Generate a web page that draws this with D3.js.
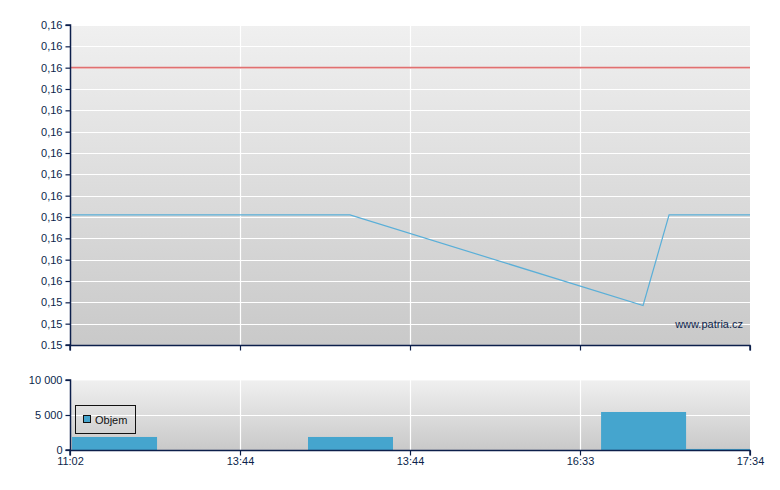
<!DOCTYPE html>
<html>
<head>
<meta charset="utf-8">
<script src="https://cdn.jsdelivr.net/npm/d3@7"></script>
<style>
  html, body { margin: 0; padding: 0; background: #ffffff; }
  svg { display: block; font-family: "Liberation Sans", Arial, sans-serif; }
</style>
</head>
<body>
<div id="chart"></div>
<script>
// ---- data ----
const xTickPos = [0, 1, 2, 3, 4];
const xTickLabels = ["11:02", "13:44", "13:44", "16:33", "17:34"];

const priceTickValues = [0.1545, 0.1547, 0.1549, 0.1551, 0.1553, 0.1555, 0.1557, 0.1559,
                         0.1561, 0.1563, 0.1565, 0.1567, 0.1569, 0.1571, 0.1573, 0.1575];
const priceTickLabels = ["0.15", "0,15", "0,15", "0,16", "0,16", "0,16", "0,16", "0,16",
                         "0,16", "0,16", "0,16", "0,16", "0,16", "0,16", "0,16", "0,16"];

const priceTimes  = [0.012, 1.647, 3.371, 3.524, 4.0];
const priceValues = [0.15572, 0.15572, 0.15487, 0.15572, 0.15572];
const prevClose = 0.1571;

const volStart  = [0.012, 1.4, 3.124, 3.624];
const volEnd    = [0.512, 1.9, 3.624, 4.0];
const volValues = [1860, 1860, 5430, 150];
const volTickValues = [0, 5000, 10000];
const volTickLabels = ["0", "5 000", "10 000"];

// ---- layout ----
const W = 780, H = 490;
const left = 70, right = 750;
const mainTop = 25, mainBottom = 345;
const volTop = 380, volBottom = 450;
const navy = "#0c1f4b";

const svg = d3.select("#chart").append("svg").attr("width", W).attr("height", H);

const defs = svg.append("defs");
const grad = defs.append("linearGradient").attr("id", "bg").attr("x1", 0).attr("y1", 0).attr("x2", 0).attr("y2", 1);
grad.append("stop").attr("offset", "0%").attr("stop-color", "#f0f0f0");
grad.append("stop").attr("offset", "100%").attr("stop-color", "#c9c9c9");

const x = d3.scaleLinear().domain([0, 4]).range([left, right]);
const y = d3.scaleLinear().domain([0.1545, 0.1575]).range([mainBottom, mainTop]);
const yv = d3.scaleLinear().domain([0, 10000]).range([volBottom, volTop]);

// ---- main panel ----
svg.append("rect").attr("x", left).attr("y", mainTop).attr("width", right - left).attr("height", mainBottom - mainTop).attr("fill", "url(#bg)");

const g = svg.append("g");
g.selectAll("line.hg").data(priceTickValues.slice(1)).enter().append("line")
  .attr("x1", left).attr("x2", right).attr("y1", d => Math.round(y(d)) + 0.5).attr("y2", d => Math.round(y(d)) + 0.5)
  .attr("stroke", "#ffffff").attr("stroke-width", 1.2);
g.selectAll("line.vg").data(xTickPos.slice(1, 4)).enter().append("line")
  .attr("y1", mainTop).attr("y2", mainBottom).attr("x1", d => Math.round(x(d)) + 0.5).attr("x2", d => Math.round(x(d)) + 0.5)
  .attr("stroke", "#ffffff").attr("stroke-width", 1.2);

// prev close line
g.append("line").attr("x1", left).attr("x2", right).attr("y1", y(prevClose)).attr("y2", y(prevClose))
  .attr("stroke", "#e07070").attr("stroke-width", 1.6);

// price line
const line = d3.line().x((d, i) => x(priceTimes[i])).y(d => y(d));
g.append("path").datum(priceValues).attr("d", line).attr("fill", "none")
  .attr("stroke", "#5aafd8").attr("stroke-width", 1.2);

// watermark
svg.append("text").attr("x", 743).attr("y", 328).attr("text-anchor", "end")
  .attr("font-size", 11).attr("fill", navy).text("www.patria.cz");

// main axes
const yAxis = d3.axisLeft(y).tickValues(priceTickValues).tickSize(5).tickPadding(3)
  .tickFormat((d, i) => priceTickLabels[i]);
const ya = svg.append("g").attr("transform", `translate(${left + 0.5},0)`).call(yAxis);
const xAxisMain = d3.axisBottom(x).tickValues(xTickPos).tickSize(5).tickFormat("");
const xa = svg.append("g").attr("transform", `translate(0,${mainBottom + 0.5})`).call(xAxisMain);

// ---- volume panel ----
svg.append("rect").attr("x", left).attr("y", volTop).attr("width", right - left).attr("height", volBottom - volTop).attr("fill", "url(#bg)");
svg.append("line").attr("x1", left).attr("x2", right).attr("y1", volTop + 0.5).attr("y2", volTop + 0.5).attr("stroke", "#f6f6f6");
svg.append("line").attr("x1", left).attr("x2", right).attr("y1", Math.round(yv(5000)) + 0.5).attr("y2", Math.round(yv(5000)) + 0.5)
  .attr("stroke", "#ffffff").attr("stroke-width", 1.2);
svg.selectAll("line.vvg").data(xTickPos.slice(1, 4)).enter().append("line")
  .attr("y1", volTop).attr("y2", volBottom).attr("x1", d => Math.round(x(d)) + 0.5).attr("x2", d => Math.round(x(d)) + 0.5)
  .attr("stroke", "#ffffff").attr("stroke-width", 1.2);

svg.selectAll("rect.bar").data(volValues).enter().append("rect")
  .attr("x", (d, i) => x(volStart[i]))
  .attr("width", (d, i) => x(volEnd[i]) - x(volStart[i]))
  .attr("y", d => yv(d))
  .attr("height", d => volBottom - yv(d))
  .attr("fill", "#45a5ce");

const yvAxis = d3.axisLeft(yv).tickValues(volTickValues).tickSize(5).tickPadding(3)
  .tickFormat((d, i) => volTickLabels[i]);
const yva = svg.append("g").attr("transform", `translate(${left + 0.5},0)`).call(yvAxis);
const xAxis = d3.axisBottom(x).tickValues(xTickPos).tickSize(5).tickPadding(2)
  .tickFormat((d, i) => xTickLabels[i]);
const xva = svg.append("g").attr("transform", `translate(0,${volBottom + 0.5})`).call(xAxis);

[ya, xa, yva, xva].forEach(a => {
  a.select(".domain").attr("stroke", navy).attr("stroke-width", 1.5);
  a.selectAll(".tick line").attr("stroke", navy).attr("stroke-width", 1.2);
  a.selectAll(".tick text").attr("fill", navy).attr("font-size", 11)
    .attr("font-family", "'Liberation Sans', Arial, sans-serif");
});
xa.select(".domain").attr("d", `M${left},5V0H${right}V5`);
xva.select(".domain").attr("d", `M${left},5V0H${right}V5`);
ya.select(".domain").attr("d", `M-5,${mainTop}H0V${mainBottom}H-5`);
yva.select(".domain").attr("d", `M-5,${volTop}H0V${volBottom}H-5`);

// legend
const lg = svg.append("g");
lg.append("rect").attr("x", 75.5).attr("y", 405.5).attr("width", 60).attr("height", 28)
  .attr("fill", "none").attr("stroke", "#111111").attr("stroke-width", 1);
lg.append("rect").attr("x", 83.5).attr("y", 415.5).attr("width", 7).attr("height", 7)
  .attr("fill", "#45a5ce").attr("stroke", "#111111").attr("stroke-width", 1);
lg.append("text").attr("x", 95).attr("y", 424).attr("font-size", 11).attr("fill", "#111111").text("Objem");
</script>
</body>
</html>
